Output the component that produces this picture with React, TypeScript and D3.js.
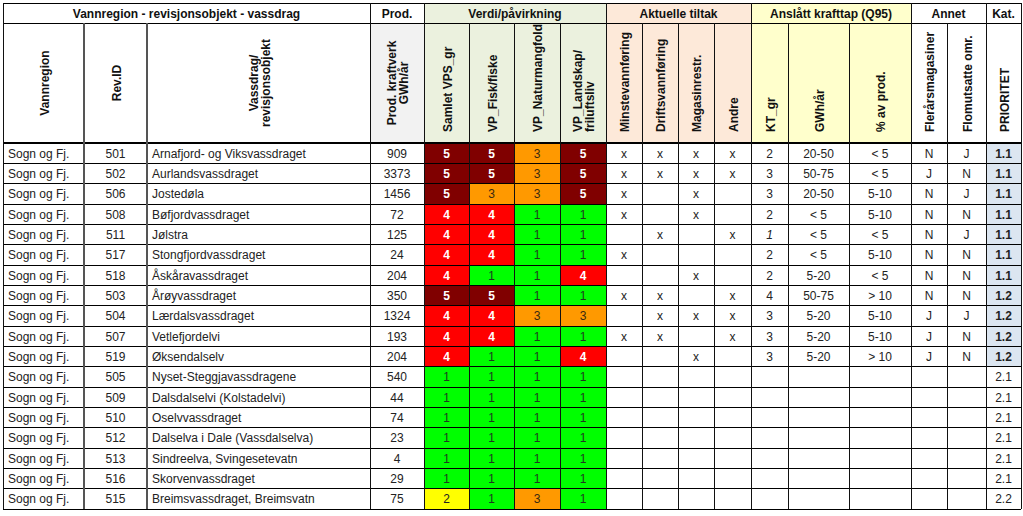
import React from "react";
import * as d3 from "d3";

const regions = Array(18).fill("Sogn og Fj.");
const revIds = ["501","502","506","508","511","517","518","503","504","507","519","505","509","510","512","513","516","515"];
const names = ["Arnafjord- og Viksvassdraget","Aurlandsvassdraget","Jostedøla","Bøfjordvassdraget","Jølstra","Stongfjordvassdraget","Åskåravassdraget","Årøyvassdraget","Lærdalsvassdraget","Vetlefjordelvi","Øksendalselv","Nyset-Steggjavassdragene","Dalsdalselvi (Kolstadelvi)","Oselvvassdraget","Dalselva i Dale (Vassdalselva)","Sindreelva, Svingesetevatn","Skorvenvassdraget","Breimsvassdraget, Breimsvatn"];
const prod = [909,3373,1456,72,125,24,204,350,1324,193,204,540,44,74,23,4,29,75];
const vps = [5,5,5,4,4,4,4,5,4,4,4,1,1,1,1,1,1,2];
const fisk = [5,5,3,4,4,4,1,5,4,4,1,1,1,1,1,1,1,1];
const natur = [3,3,3,1,1,1,1,1,3,1,1,1,1,1,1,1,1,3];
const landskap = [5,5,5,1,1,1,4,1,3,1,4,1,1,1,1,1,1,1];
const minste = ["x","x","x","x","","x","","x","","x","","","","","","","",""];
const drifts = ["x","x","","","x","","","x","x","x","","","","","","","",""];
const magasin = ["x","x","x","x","","","x","","x","","x","","","","","","",""];
const andre = ["x","x","","","x","","","x","x","x","","","","","","","",""];
const ktGr = ["2","3","3","2","1","2","2","4","3","3","3","","","","","","",""];
const ktGwh = ["20-50","50-75","20-50","< 5","< 5","< 5","5-20","50-75","5-20","5-20","5-20","","","","","","",""];
const ktPct = ["< 5","< 5","5-10","5-10","< 5","5-10","< 5","> 10","5-10","5-10","> 10","","","","","","",""];
const flerars = ["N","J","N","N","N","N","N","N","J","J","J","","","","","","",""];
const flom = ["J","N","J","N","J","N","N","N","J","N","N","","","","","","",""];
const prioritet = ["1.1","1.1","1.1","1.1","1.1","1.1","1.1","1.2","1.2","1.2","1.2","2.1","2.1","2.1","2.1","2.1","2.1","2.2"];

const groupHeaders = [
  { label: "Vannregion - revisjonsobjekt - vassdrag", from: 0, to: 3, fill: "#ffffff" },
  { label: "Prod.", from: 3, to: 4, fill: "#ffffff" },
  { label: "Verdi/påvirkning", from: 4, to: 8, fill: "#ebf1de" },
  { label: "Aktuelle tiltak", from: 8, to: 12, fill: "#fde9d9" },
  { label: "Anslått krafttap (Q95)", from: 12, to: 15, fill: "#ffffcc" },
  { label: "Annet", from: 15, to: 17, fill: "#ffffff" },
  { label: "Kat.", from: 17, to: 18, fill: "#ffffff" },
];

const colHeaders: { lines: string[]; fill: string; mid: boolean }[] = [
  { lines: ["Vannregion"], fill: "#ffffff", mid: true },
  { lines: ["Rev.ID"], fill: "#ffffff", mid: true },
  { lines: ["Vassdrag/", "revisjonsobjekt"], fill: "#ffffff", mid: true },
  { lines: ["Prod. kraftverk", "GWh/år"], fill: "#f2f2f2", mid: true },
  { lines: ["Samlet VPS_gr"], fill: "#ebf1de", mid: false },
  { lines: ["VP_Fisk/fiske"], fill: "#ebf1de", mid: false },
  { lines: ["VP_Naturmangfold"], fill: "#ebf1de", mid: false },
  { lines: ["VP_Landskap/", "friluftsliv"], fill: "#ebf1de", mid: false },
  { lines: ["Minstevannføring"], fill: "#fde9d9", mid: false },
  { lines: ["Driftsvannføring"], fill: "#fde9d9", mid: false },
  { lines: ["Magasinrestr."], fill: "#fde9d9", mid: false },
  { lines: ["Andre"], fill: "#fde9d9", mid: false },
  { lines: ["KT_gr"], fill: "#ffffcc", mid: false },
  { lines: ["GWh/år"], fill: "#ffffcc", mid: false },
  { lines: ["% av prod."], fill: "#ffffcc", mid: false },
  { lines: ["Flerårsmagasiner"], fill: "#ffffff", mid: false },
  { lines: ["Flomutsatte omr."], fill: "#ffffff", mid: false },
  { lines: ["PRIORITET"], fill: "#ffffff", mid: false },
];

const colEdges = [3, 84, 147, 370, 424, 469, 514, 560, 606, 642, 678, 714, 751, 788, 849, 911, 947, 986, 1021];
const top = 3, h1 = 23, h2 = 143, bottom = 509;

const scoreFill = d3.scaleOrdinal<number, string>().domain([1, 2, 3, 4, 5]).range(["#00ff00", "#ffff00", "#ff9900", "#ff0000", "#800000"]);
const scoreText = d3.scaleOrdinal<number, string>().domain([1, 2, 3, 4, 5]).range(["#1f3a1f", "#222", "#3a2a10", "#ffffff", "#ffffff"]);

export default function App() {
  const y = d3.scaleBand<string>().domain(revIds).range([h2, bottom]);
  const rh = y.bandwidth();
  const font = "'Liberation Sans', Arial, sans-serif";
  const cx = (c: number) => (colEdges[c] + colEdges[c + 1]) / 2;

  const cells: React.ReactNode[] = [];
  revIds.forEach((id, i) => {
    const yy = y(id)!;
    const ty = yy + rh / 2 + 4.5;
    const txt = (c: number, s: string, opts: any = {}) => (
      <text key={`t${i}-${c}`} x={opts.anchor === "start" ? colEdges[c] + 5 : opts.anchor === "end" ? colEdges[c + 1] - 6 : cx(c)} y={ty}
        textAnchor={opts.anchor || "middle"} fontSize={12} fontWeight={opts.bold ? "bold" : "normal"} fontStyle={opts.italic ? "italic" : "normal"}
        fill={opts.fill || "#222"}>{s}</text>
    );
    const scores = [vps[i], fisk[i], natur[i], landskap[i]];
    scores.forEach((v, k) => {
      const c = 4 + k;
      cells.push(<rect key={`r${i}-${c}`} x={colEdges[c]} y={yy} width={colEdges[c + 1] - colEdges[c]} height={rh} fill={scoreFill(v)} />);
      cells.push(txt(c, String(v), { bold: v >= 4, fill: scoreText(v) }));
    });
    cells.push(<rect key={`p${i}`} x={colEdges[17]} y={yy} width={colEdges[18] - colEdges[17]} height={rh} fill={prioritet[i].startsWith("1") ? "#dce6f1" : "#ffffff"} />);
    cells.push(txt(0, regions[i], { anchor: "start" }));
    cells.push(txt(1, revIds[i]));
    cells.push(txt(2, names[i], { anchor: "start" }));
    cells.push(txt(3, String(prod[i])));
    [minste, drifts, magasin, andre].forEach((arr, k) => { if (arr[i]) cells.push(txt(8 + k, arr[i])); });
    if (ktGr[i]) cells.push(txt(12, ktGr[i], { italic: ktGr[i] === "1" }));
    if (ktGwh[i]) cells.push(txt(13, ktGwh[i]));
    if (ktPct[i]) cells.push(txt(14, ktPct[i]));
    if (flerars[i]) cells.push(txt(15, flerars[i]));
    if (flom[i]) cells.push(txt(16, flom[i]));
    cells.push(txt(17, prioritet[i], { bold: prioritet[i].startsWith("1") }));
  });

  return (
    <svg width={1023} height={516} style={{ position: "absolute", left: 0, top: 0, background: "#fff" }} fontFamily={font}>
      <rect x={0} y={0} width={1023} height={516} fill="#fff" />
      {groupHeaders.map((g, k) => (
        <g key={`g${k}`}>
          <rect x={colEdges[g.from]} y={top} width={colEdges[g.to] - colEdges[g.from]} height={h1 - top} fill={g.fill} />
          <text x={(colEdges[g.from] + colEdges[g.to]) / 2} y={(top + h1) / 2 + 4.5} textAnchor="middle" fontSize={12} fontWeight="bold" fill="#111">{g.label}</text>
        </g>
      ))}
      {colHeaders.map((c, k) => {
        const x = cx(k);
        const n = c.lines.length;
        const yAnchor = c.mid ? (h1 + h2) / 2 : 132;
        return (
          <g key={`h${k}`}>
            <rect x={colEdges[k]} y={h1} width={colEdges[k + 1] - colEdges[k]} height={h2 - h1} fill={c.fill} />
            {c.lines.map((l, j) => {
              const lx = x + 5 + (j - (n - 1) / 2) * 12;
              return (
                <text key={j} transform={`translate(${lx},${yAnchor}) rotate(-90)`} textAnchor={c.mid ? "middle" : "start"} fontSize={12} fontWeight="bold" fill="#111">{l}</text>
              );
            })}
          </g>
        );
      })}
      {cells}
      {[top, h1, h2, ...revIds.map((id) => y(id)! + rh)].map((yy, k) => (
        <line key={`hl${k}`} x1={colEdges[0]} x2={colEdges[18]} y1={yy} y2={yy} stroke="#000" strokeWidth={k === 2 ? 1.5 : 1} shapeRendering="crispEdges" />
      ))}
      {colEdges.map((xx, k) => {
        const isGroupEdge = groupHeaders.some((g) => g.from === k || g.to === k);
        return (
          <line key={`vl${k}`} x1={xx} x2={xx} y1={isGroupEdge ? top : h1} y2={bottom} stroke={k === 1 || k === 2 ? "#555" : "#111"} strokeWidth={k === 1 || k === 2 ? 2 : 1} shapeRendering="crispEdges" />
        );
      })}
    </svg>
  );
}
